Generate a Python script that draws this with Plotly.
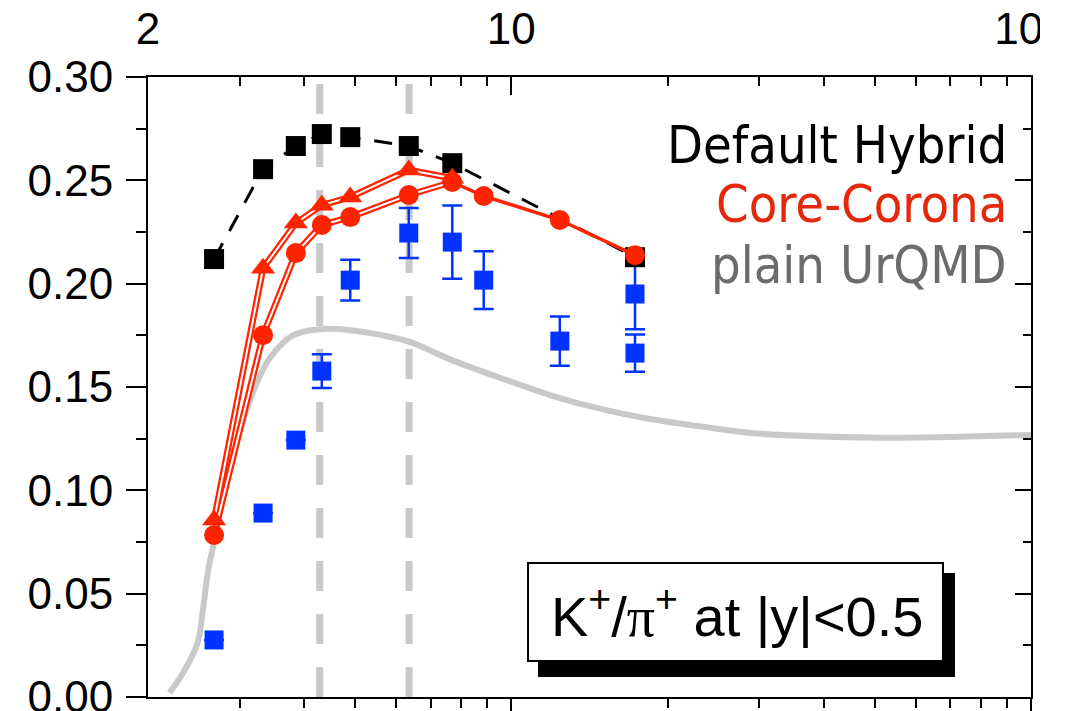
import numpy as np
import plotly.graph_objects as go

# ---- values -------------------------------------------------------------
# measured K+/pi+ at midrapidity (blue squares, with error bars)
data_sqrts = [2.68, 3.33, 3.85, 4.32, 4.9, 6.35, 7.7, 8.85, 12.4, 17.3, 17.3]
data_ratio = [0.0276, 0.089, 0.1243, 0.1577, 0.2017, 0.2245, 0.2201, 0.2017, 0.1722, 0.195, 0.1664]
data_err = [0.0, 0.0, 0.0, 0.0082, 0.0099, 0.0121, 0.0177, 0.014, 0.0119, 0.017, 0.009]

# default hybrid model (black squares, dashed)
hybrid_sqrts = [2.68, 3.33, 3.85, 4.32, 4.9, 6.35, 7.7, 17.3]
hybrid_ratio = [0.2119, 0.2554, 0.2666, 0.2724, 0.2709, 0.2666, 0.2583, 0.2128]

# core-corona variants (red triangles and red circles)
cc_tri_sqrts = [2.68, 3.33, 3.85, 4.32, 4.9, 6.35, 7.7]
cc_tri_ratio = [0.0856, 0.2075, 0.2293, 0.238, 0.2419, 0.255, 0.251]
cc_circ_sqrts = [2.68, 3.33, 3.85, 4.32, 4.9, 6.35, 7.7, 8.85, 12.4, 17.3]
cc_circ_ratio = [0.0784, 0.1751, 0.2148, 0.2284, 0.2322, 0.2429, 0.2492, 0.2424, 0.2308, 0.2138]

# plain UrQMD (smooth grey curve)
urqmd_sqrts = [2.2, 2.34, 2.49, 2.55, 2.61, 2.67, 2.84, 3.05, 3.24, 3.43, 3.8, 4.3, 4.9, 5.6,
               6.4, 7.6, 9.5, 11.9, 14.8, 18.5, 23.0, 29.7, 51.0, 69.0, 100.0]
urqmd_ratio = [0.002, 0.012, 0.026, 0.042, 0.061, 0.073, 0.106, 0.134, 0.152, 0.164, 0.175, 0.178, 0.1775, 0.1752,
               0.1717, 0.1635, 0.1545, 0.146, 0.1395, 0.1345, 0.131, 0.1275, 0.1255, 0.1258, 0.1268]

# energies marked by vertical dashed lines
marked_sqrts = [4.28, 6.36]

# axis ticks
x_major = [2, 10, 100]
x_major_text = ["2", "10", "100"]
x_minor = [3, 4, 5, 6, 7, 8, 9, 20, 30, 40, 50, 60, 70, 80, 90]
y_major = [0.0, 0.05, 0.10, 0.15, 0.20, 0.25, 0.30]
y_major_text = ["0.00", "0.05", "0.10", "0.15", "0.20", "0.25", "0.30"]
y_minor = [0.025, 0.075, 0.125, 0.175, 0.225, 0.275]

Y_RANGE = [0.0, 0.30]

RED = "#ff2400"
BLUE = "#0033ff"
LGREY = "#c9c9c9"

fig = go.Figure()

# vertical dashed markers, drawn from the bottom upward
for xv in marked_sqrts:
    fig.add_trace(go.Scatter(
        x=[xv, xv], y=Y_RANGE, mode="lines",
        line=dict(color=LGREY, width=7, dash="30px,23px"),
        hoverinfo="skip"))

# plain UrQMD curve
fig.add_trace(go.Scatter(
    x=urqmd_sqrts, y=urqmd_ratio, mode="lines",
    line=dict(color=LGREY, width=6, shape="spline", smoothing=1.0)))

# measured data
fig.add_trace(go.Scatter(
    x=data_sqrts, y=data_ratio, mode="markers",
    marker=dict(symbol="square", size=19, color=BLUE),
    error_y=dict(type="data", array=data_err, color=BLUE, thickness=2.5, width=10)))

# default hybrid
fig.add_trace(go.Scatter(
    x=hybrid_sqrts, y=hybrid_ratio, mode="lines+markers",
    line=dict(color="black", width=3, dash="18px,14px"),
    marker=dict(symbol="square", size=20, color="black")))

# core-corona: outlined lines up to 7.7 GeV, plain line above
n_hollow = cc_circ_sqrts.index(7.7) + 1
for xs, ys in [(cc_tri_sqrts, cc_tri_ratio),
               (cc_circ_sqrts[:n_hollow], cc_circ_ratio[:n_hollow])]:
    fig.add_trace(go.Scatter(x=xs, y=ys, mode="lines", xaxis="x2", yaxis="y2",
                             line=dict(color=RED, width=6.5)))
fig.add_trace(go.Scatter(x=cc_circ_sqrts[n_hollow - 1:], y=cc_circ_ratio[n_hollow - 1:],
                         mode="lines", xaxis="x2", yaxis="y2",
                         line=dict(color=RED, width=3.5)))
for xs, ys in [(cc_tri_sqrts, cc_tri_ratio),
               (cc_circ_sqrts[:n_hollow], cc_circ_ratio[:n_hollow])]:
    fig.add_trace(go.Scatter(x=xs, y=ys, mode="lines", xaxis="x2", yaxis="y2",
                             line=dict(color="white", width=2)))
fig.add_trace(go.Scatter(x=cc_tri_sqrts, y=cc_tri_ratio, mode="markers", xaxis="x2", yaxis="y2",
                         marker=dict(symbol="triangle-up", size=21, color=RED)))
fig.add_trace(go.Scatter(x=cc_circ_sqrts, y=cc_circ_ratio, mode="markers", xaxis="x2", yaxis="y2",
                         marker=dict(symbol="circle", size=20, color=RED)))

tick_font = dict(family="Liberation Sans, Arial, sans-serif", size=44, color="black")
xr = [np.log10(2), 2]

common_x = dict(type="log", range=xr, showline=True, linecolor="black", linewidth=2,
                tickwidth=2, tickcolor="black", showgrid=False, zeroline=False,
                automargin=False)
common_y = dict(range=Y_RANGE, showline=True, linecolor="black", linewidth=2,
                tickwidth=2, tickcolor="black", showgrid=False, zeroline=False,
                automargin=False)

fig.update_layout(
    width=1040, height=711,
    margin=dict(l=148, r=9, t=77, b=14, autoexpand=False),
    paper_bgcolor="white", plot_bgcolor="white",
    showlegend=False,
    xaxis=dict(**common_x, ticks="outside", ticklen=18, tickvals=[10, 100],
               showticklabels=False,
               minor=dict(tickvals=x_minor, ticks="outside", ticklen=9,
                          tickwidth=2, tickcolor="black", showgrid=False)),
    xaxis2=dict(**common_x, overlaying="x", side="top", ticks="inside", ticklen=18,
                tickvals=x_major, ticktext=x_major_text, tickfont=tick_font,
                ticklabelstandoff=13, ticklabeloverflow="allow",
                minor=dict(tickvals=x_minor, ticks="inside", ticklen=9,
                           tickwidth=2, tickcolor="black", showgrid=False)),
    yaxis=dict(**common_y, ticks="outside", ticklen=20, tickvals=y_major,
               ticktext=y_major_text, tickfont=tick_font, ticklabelstandoff=4,
               ticklabeloverflow="allow",
               minor=dict(tickvals=y_minor, ticks="outside", ticklen=10,
                          tickwidth=2, tickcolor="black", showgrid=False)),
    yaxis2=dict(**common_y, overlaying="y", side="right", ticks="inside", ticklen=16,
                tickvals=y_major, showticklabels=False,
                minor=dict(tickvals=y_minor, ticks="inside", ticklen=8,
                           tickwidth=2, tickcolor="black", showgrid=False)),
)

# legend text
legend_font = "DejaVu Sans Condensed, DejaVu Sans, sans-serif"
for label, color, yp in [("Default Hybrid", "black", 0.891),
                         ("Core-Corona", "#e5280c", 0.795),
                         ("plain UrQMD", "#6b6b6b", 0.697)]:
    fig.add_annotation(text=label, xref="paper", yref="paper", x=0.975, y=yp,
                       xanchor="right", yanchor="middle", showarrow=False,
                       font=dict(family=legend_font, size=52, color=color))

# label box with drop shadow
fig.add_shape(type="rect", xref="paper", yref="paper",
              x0=0.4417, x1=0.9139, y0=0.0323, y1=0.2,
              fillcolor="black", line=dict(width=0), layer="above")
fig.add_shape(type="rect", xref="paper", yref="paper",
              x0=0.4304, x1=0.9003, y0=0.0581, y1=0.2161,
              fillcolor="white", line=dict(color="black", width=2), layer="above")
fig.add_annotation(
    text="K<sup>+</sup>/<span style=\"font-family:Liberation Serif\">π</span><sup>+</sup> at |y|&lt;0.5",
    xref="paper", yref="paper", x=0.667, y=0.137, xanchor="center", yanchor="middle",
    showarrow=False, font=dict(family="Liberation Sans, Arial, sans-serif", size=56, color="black"))

fig.write_html("out.html")
